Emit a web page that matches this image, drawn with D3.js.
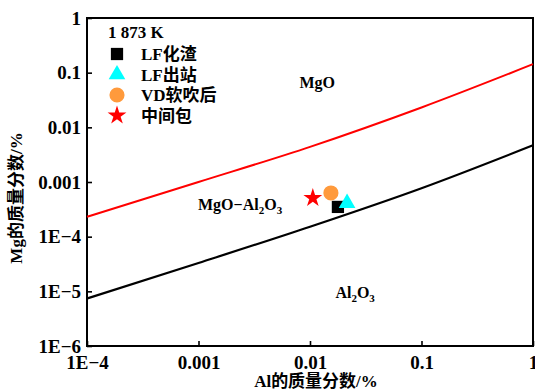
<!DOCTYPE html>
<html>
<head>
<meta charset="utf-8">
<script src="https://cdn.jsdelivr.net/npm/d3@7"></script>
<style>
	body { margin: 0; background: #fff; }
	svg text { font-family: "Liberation Serif", "Noto Sans CJK SC", serif; font-weight: bold; fill: #000; }
</style>
</head>
<body>
<div id="chart"></div>
<script>
// boundary lines, Al vs Mg (mass %)
var alValues = [1e-4, 1e-3, 1e-2, 1e-1, 1];
var mgoBoundary = [2.31e-4, 1.0e-3, 4.4e-3, 2.31e-2, 0.143];
var spinelBoundary = [7.4e-6, 3.3e-5, 1.52e-4, 7.7e-4, 4.7e-3];

// measured samples
var sampleNames = ['LF化渣', 'LF出站', 'VD软吹后', '中间包'];
var sampleAl = [0.0178, 0.0215, 0.0154, 0.0106];
var sampleMg = [3.5e-4, 4.1e-4, 6.3e-4, 5.1e-4];

var xTicks = [1e-4, 1e-3, 1e-2, 1e-1, 1];
var xTickLabels = ['1E−4', '0.001', '0.01', '0.1', '1'];
var yTicks = [1e-6, 1e-5, 1e-4, 1e-3, 1e-2, 1e-1, 1];
var yTickLabels = ['1E−6', '1E−5', '1E−4', '0.001', '0.01', '0.1', '1'];

(function(){
	var W = 535, H = 391;
	var margin = {top: 18, right: 2, bottom: 45, left: 87};
	var w = W - margin.left - margin.right;
	var h = H - margin.top - margin.bottom;

	var svg = d3.select('#chart').append('svg')
		.attr('width', W)
		.attr('height', H);
	var g = svg.append('g')
		.attr('transform', 'translate(' + margin.left + ',' + margin.top + ')');

	var x = d3.scaleLog().domain([1e-4, 1]).range([0, w]);
	var y = d3.scaleLog().domain([1e-6, 1]).range([h, 0]);

	var xAxis = d3.axisBottom(x)
		.tickValues(xTicks)
		.tickFormat(function(d, i){ return xTickLabels[i]; })
		.tickSizeInner(-5).tickSizeOuter(0).tickPadding(8);
	var yAxis = d3.axisLeft(y)
		.tickValues(yTicks)
		.tickFormat(function(d, i){ return yTickLabels[i]; })
		.tickSizeInner(-5).tickSizeOuter(0).tickPadding(6);

	var gx = g.append('g').attr('transform', 'translate(0,' + h + ')').call(xAxis);
	var gy = g.append('g').call(yAxis);
	[gx, gy].forEach(function(a){
		a.selectAll('.domain').remove();
		a.selectAll('line').attr('stroke', '#000').attr('stroke-width', 1.6);
		a.selectAll('text').style('font-size', '19px').attr('fill', '#000');
	});
	gx.selectAll('text').attr('dy', '0.8em');

	g.append('rect')
		.attr('width', w).attr('height', h)
		.attr('fill', 'none')
		.attr('stroke', '#000')
		.attr('stroke-width', 2);

	var line = d3.line()
		.x(function(d){ return x(d[0]); })
		.y(function(d){ return y(d[1]); })
		.curve(d3.curveMonotoneX);

	g.append('path')
		.datum(d3.zip(alValues, mgoBoundary))
		.attr('d', line)
		.attr('fill', 'none').attr('stroke', '#ff0000').attr('stroke-width', 2);
	g.append('path')
		.datum(d3.zip(alValues, spinelBoundary))
		.attr('d', line)
		.attr('fill', 'none').attr('stroke', '#000').attr('stroke-width', 2.2);

	var symbols = [d3.symbolSquare, d3.symbolTriangle, d3.symbolCircle, d3.symbolStar];
	var colors = ['#000000', '#00ffff', '#ff9a3c', '#ff0000'];
	var sizes = [150, 120, 180, 110];

	g.selectAll('.sample')
		.data(sampleNames)
		.enter().append('path')
		.attr('class', 'sample')
		.attr('d', function(d, i){ return d3.symbol().type(symbols[i]).size(sizes[i])(); })
		.attr('fill', function(d, i){ return colors[i]; })
		.attr('transform', function(d, i){
			return 'translate(' + x(sampleAl[i]) + ',' + y(sampleMg[i]) + ')';
		});

	// legend
	var legend = g.append('g').attr('transform', 'translate(30,0)');
	legend.append('text').attr('x', -9).attr('y', 20).style('font-size', '17px').text('1 873 K');
	var item = legend.selectAll('.item')
		.data(sampleNames)
		.enter().append('g')
		.attr('transform', function(d, i){ return 'translate(0,' + (36 + i * 20.5) + ')'; });
	item.append('path')
		.attr('d', function(d, i){ return d3.symbol().type(symbols[i]).size(sizes[i])(); })
		.attr('fill', function(d, i){ return colors[i]; });
	item.append('text')
		.attr('x', 24).attr('dy', '0.36em')
		.style('font-size', '17px')
		.text(function(d){ return d; });

	// phase region labels
	function label(px, py, parts) {
		var t = g.append('text').attr('x', px).attr('y', py)
			.attr('text-anchor', 'middle').style('font-size', '16px');
		parts.forEach(function(p){
			var s = t.append('tspan').text(p[0]);
			if (p[1]) s.attr('dy', 4).style('font-size', '11px');
			else if (p[2]) s.attr('dy', -4);
		});
	}
	label(x(0.0116), y(0.052), [['MgO']]);
	label(x(0.00236), y(3.06e-4), [['MgO−Al'], ['2', 1], ['O', 0, 1], ['3', 1]]);
	label(x(0.0254), y(7.6e-6), [['Al'], ['2', 1], ['O', 0, 1], ['3', 1]]);

	// axis titles
	svg.append('text')
		.attr('x', margin.left + w / 2 + 6).attr('y', H - 4)
		.attr('text-anchor', 'middle').style('font-size', '17px')
		.text('Al的质量分数/%');
	svg.append('text')
		.attr('transform', 'translate(22,' + (margin.top + h / 2 + 16) + ') rotate(-90)')
		.attr('text-anchor', 'middle').style('font-size', '17px')
		.text('Mg的质量分数/%');
})();
</script>
</body>
</html>
